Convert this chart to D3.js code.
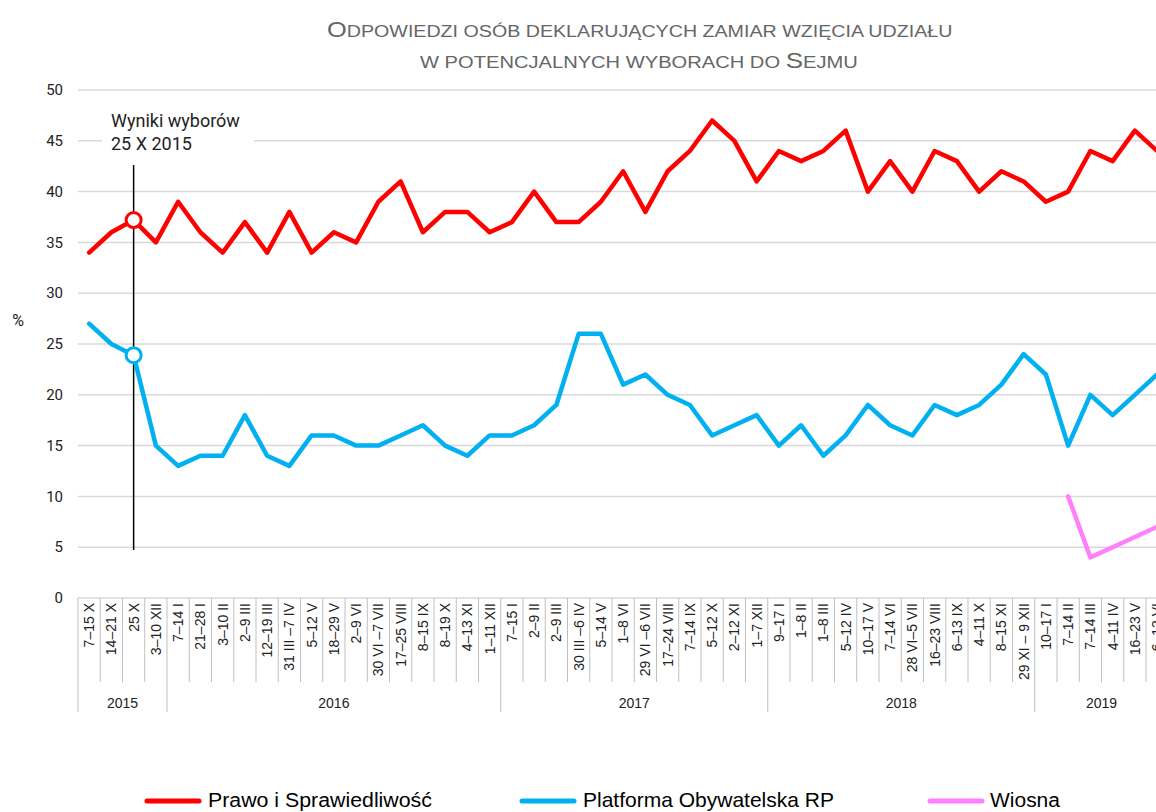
<!DOCTYPE html>
<html>
<head>
<meta charset="utf-8">
<script src="https://cdn.jsdelivr.net/npm/d3@7"></script>
<style>
  body { margin: 0; background: #fff; }
  svg { display: block; }
</style>
</head>
<body>
<div id="chart"></div>
<script>
const categories = [
  "7–15 X", "14–21 X", "25 X", "3–10 XII",
  "7–14 I", "21–28 I", "3–10 II", "2–9 III", "12–19 III", "31 III  –7 IV", "5–12 V", "18–29 V",
  "2–9 VI", "30 VI  –7 VII", "17–25 VIII", "8–15 IX", "8–19 X", "4–13 XI", "1–11 XII",
  "7–15 I", "2–9 II", "2–9 III", "30 III  –6 IV", "5–14 V", "1–8 VI", "29 VI  –6 VII", "17–24 VIII",
  "7–14 IX", "5–12 X", "2–12 XI", "1–7 XII",
  "9–17 I", "1–8 II", "1–8 III", "5–12 IV", "10–17 V", "7–14 VI", "28 VI–5 VII", "16–23 VIII",
  "6–13 IX", "4–11 X", "8–15 XI", "29 XI – 9 XII",
  "10–17 I", "7–14 II", "7–14 III", "4–11 IV", "16–23 V", "6–13 VI"
];
const years = ["2015", "2016", "2017", "2018", "2019"];
const yearCounts = [4, 15, 12, 12, 6];

const pis = [34, 36, 37.2, 35, 39, 36, 34, 37, 34, 38, 34, 36, 35, 39, 41, 36, 38, 38, 36,
  37, 40, 37, 37, 39, 42, 38, 42, 44, 47, 45, 41,
  44, 43, 44, 46, 40, 43, 40, 44, 43, 40, 42, 41,
  39, 40, 44, 43, 46, 44];
const po = [27, 25, 23.9, 15, 13, 14, 14, 18, 14, 13, 16, 16, 15, 15, 16, 17, 15, 14, 16,
  16, 17, 19, 26, 26, 21, 22, 20, 19, 16, 17, 18,
  15, 17, 14, 16, 19, 17, 16, 19, 18, 19, 21, 24,
  22, 15, 20, 18, 20, 22];
const wiosna = [null, null, null, null, null, null, null, null, null, null, null, null, null, null,
  null, null, null, null, null, null, null, null, null, null, null, null, null, null, null, null,
  null, null, null, null, null, null, null, null, null, null, null, null, null,
  null, 10, 4, 5, 6, 7];

const yTicks = [0, 5, 10, 15, 20, 25, 30, 35, 40, 45, 50];
const seriesNames = ["Prawo i Sprawiedliwość", "Platforma Obywatelska RP", "Wiosna"];
const seriesColors = ["#ff0000", "#00b0f0", "#ff80ff"];
const electionIndex = 2;

const width = 1156, height = 812;
const left = 78, step = 22.25;

const svg = d3.select("#chart").append("svg")
  .attr("width", width)
  .attr("height", height);

// labels repeat (e.g. "2–9 III"), so the band scale is keyed by index
const x = d3.scaleBand()
  .domain(d3.range(categories.length))
  .range([left, left + categories.length * step]);
const cx = i => x(i) + x.bandwidth() / 2;

const y = d3.scaleLinear()
  .domain([0, 50])
  .range([598, 90]);

// stretch a text element horizontally to a measured width
function fitWidth(t, x0, w) {
  const len = t.node().getComputedTextLength();
  const k = w / len;
  t.attr("transform", `translate(${x0},0) scale(${k},1)`);
}

// title
const titleFont = "'Liberation Sans Narrow', 'Liberation Sans', Arial, sans-serif";
const t1 = svg.append("text")
  .attr("y", 37).attr("fill", "#666").style("font-family", titleFont);
t1.append("tspan").style("font-size", "22px").text("O");
t1.append("tspan").style("font-size", "17px").text("DPOWIEDZI OSÓB DEKLARUJĄCYCH ZAMIAR WZIĘCIA UDZIAŁU");
fitWidth(t1, 327, 626);

const t2 = svg.append("text")
  .attr("y", 68).attr("fill", "#666").style("font-family", titleFont);
t2.append("tspan").style("font-size", "17px").text("W POTENCJALNYCH WYBORACH DO ");
t2.append("tspan").style("font-size", "22px").text("S");
t2.append("tspan").style("font-size", "17px").text("EJMU");
fitWidth(t2, 420, 438);

// gridlines
svg.append("g")
  .selectAll("line")
  .data(yTicks)
  .join("line")
  .attr("x1", left).attr("x2", width)
  .attr("y1", d => y(d)).attr("y2", d => y(d))
  .attr("stroke", "#d9d9d9")
  .attr("stroke-width", 1.5);

// y axis labels
svg.append("g")
  .style("font", "15px Roboto, sans-serif")
  .attr("fill", "#222")
  .selectAll("text")
  .data(yTicks)
  .join("text")
  .attr("x", 63)
  .attr("y", d => y(d))
  .attr("dy", "0.35em")
  .attr("text-anchor", "end")
  .text(d => d);

svg.append("text")
  .attr("x", 18).attr("y", 320)
  .attr("dy", "0.35em")
  .attr("text-anchor", "middle")
  .attr("fill", "#222")
  .style("font", "16px Roboto, sans-serif")
  .text("%");

// x axis frame
const boundaries = d3.range(categories.length + 1).map(i => left + i * x.step());
const yearEdges = [0];
yearCounts.forEach(n => yearEdges.push(yearEdges[yearEdges.length - 1] + n));

svg.append("g")
  .attr("stroke", "#bfbfbf")
  .attr("stroke-width", 1)
  .selectAll("line")
  .data(boundaries)
  .join("line")
  .attr("x1", d => d).attr("x2", d => d)
  .attr("y1", 598)
  .attr("y2", (d, i) => yearEdges.includes(i) ? 712 : 682);

svg.append("g")
  .style("font", "14px 'Liberation Sans', Arial, sans-serif")
  .attr("fill", "#222")
  .selectAll("text")
  .data(categories)
  .join("text")
  .attr("transform", (d, i) => `translate(${cx(i)},603) rotate(-90)`)
  .attr("dy", "0.35em")
  .attr("text-anchor", "end")
  .text(d => d);

svg.append("g")
  .style("font", "14px 'Liberation Sans', Arial, sans-serif")
  .attr("fill", "#222")
  .selectAll("text")
  .data(years)
  .join("text")
  .attr("x", (d, i) => (boundaries[yearEdges[i]] + boundaries[yearEdges[i + 1]]) / 2)
  .attr("y", 708)
  .attr("text-anchor", "middle")
  .text(d => d);

// election annotation
svg.append("rect")
  .attr("x", 102).attr("y", 108).attr("width", 152).attr("height", 48)
  .attr("fill", "#fff");

svg.append("line")
  .attr("x1", cx(electionIndex)).attr("x2", cx(electionIndex))
  .attr("y1", 165).attr("y2", 550)
  .attr("stroke", "#000").attr("stroke-width", 1.5);

const ann = svg.append("text")
  .attr("fill", "#222")
  .style("font", "18px Roboto, sans-serif");
ann.append("tspan").attr("x", 111).attr("y", 127).text("Wyniki wyborów");
ann.append("tspan").attr("x", 111).attr("y", 150).text("25 X 2015");

// series lines
const line = d3.line()
  .defined(d => d != null)
  .x((d, i) => cx(i))
  .y(d => y(d));

[pis, po, wiosna].forEach((s, k) => {
  svg.append("path")
    .datum(s)
    .attr("fill", "none")
    .attr("stroke", seriesColors[k])
    .attr("stroke-width", 4.5)
    .attr("stroke-linejoin", "round")
    .attr("stroke-linecap", "round")
    .attr("d", line);
});

// election result markers
[pis, po].forEach((s, k) => {
  svg.append("circle")
    .attr("cx", cx(electionIndex))
    .attr("cy", y(s[electionIndex]))
    .attr("r", 7.5)
    .attr("fill", "#fff")
    .attr("stroke", seriesColors[k])
    .attr("stroke-width", 3);
});

// legend
const legendX = [147, 522, 930];
const legendTextW = [224, 251, 70];
const lg = svg.append("g");
seriesNames.forEach((name, k) => {
  lg.append("line")
    .attr("x1", legendX[k]).attr("x2", legendX[k] + 52)
    .attr("y1", 801).attr("y2", 801)
    .attr("stroke", seriesColors[k])
    .attr("stroke-width", 5)
    .attr("stroke-linecap", "round");
  const t = lg.append("text")
    .attr("y", 807)
    .attr("fill", "#000")
    .style("font", "21px 'Liberation Sans Narrow', 'Liberation Sans', Arial, sans-serif")
    .text(name);
  fitWidth(t, legendX[k] + (k === 2 ? 60 : 61), legendTextW[k]);
});
</script>
</body>
</html>
